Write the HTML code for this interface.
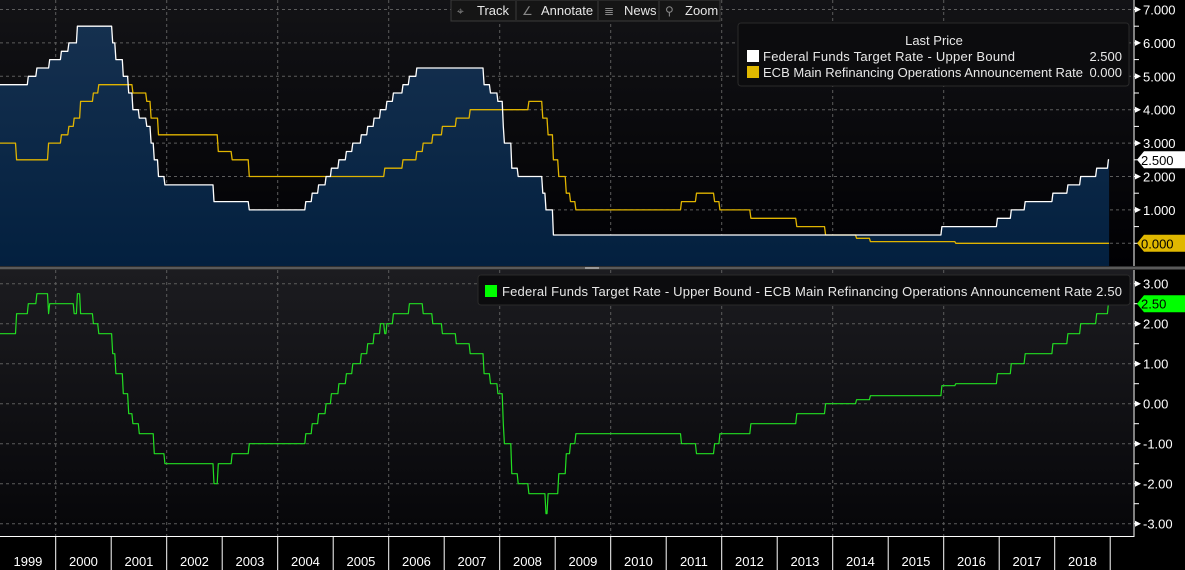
<!DOCTYPE html>
<html><head><meta charset="utf-8"><style>
html,body{margin:0;padding:0;background:#000;width:1185px;height:570px;overflow:hidden}
svg text{font-family:"Liberation Sans",sans-serif}
</style></head><body>
<svg id="chart" width="1185" height="570" viewBox="0 0 1185 570" xmlns="http://www.w3.org/2000/svg">
<defs>
<linearGradient id="bgTop" x1="0" y1="0" x2="0" y2="1"><stop offset="0" stop-color="#131316"/><stop offset="1" stop-color="#000003"/></linearGradient>
<linearGradient id="bgBot" x1="0" y1="0" x2="0" y2="1"><stop offset="0" stop-color="#1c1c20"/><stop offset="1" stop-color="#060609"/></linearGradient>
<linearGradient id="fedFill" x1="0" y1="0" x2="0" y2="1"><stop offset="0" stop-color="#15304f"/><stop offset="1" stop-color="#03203f"/></linearGradient>
</defs>
<rect x="0" y="0" width="1133" height="267" fill="url(#bgTop)"/>
<rect x="0" y="270" width="1133" height="266" fill="url(#bgBot)"/>
<rect x="0" y="266.5" width="1185" height="3" fill="#5a5a5a"/>
<rect x="585" y="267" width="14" height="2" fill="#9a9a9a"/>
<g id="gTop"></g><g id="gBot"></g><g id="gAxis"></g>
<g>
<rect x="451" y="0" width="269" height="21" fill="#151515" stroke="#3a3a3a"/>
<g><text x="457" y="15" fill="#888" font-size="12">⌖</text><text x="477" y="15" fill="#e6e6e6" font-size="13">Track</text></g>
<line x1="516" y1="1" x2="516" y2="20" stroke="#3a3a3a"/>
<g><text x="522" y="15" fill="#888" font-size="12">∠</text><text x="541" y="15" fill="#e6e6e6" font-size="13">Annotate</text></g>
<line x1="598" y1="1" x2="598" y2="20" stroke="#3a3a3a"/>
<g><text x="604" y="15" fill="#888" font-size="12">≣</text><text x="624" y="15" fill="#e6e6e6" font-size="13">News</text></g>
<line x1="659" y1="1" x2="659" y2="20" stroke="#3a3a3a"/>
<g><text x="665" y="15" fill="#888" font-size="12">⚲</text><text x="685" y="15" fill="#e6e6e6" font-size="13">Zoom</text></g>
</g>
<g>
<rect x="738" y="23" width="391" height="63" rx="3" fill="#0c0c0e" stroke="#2a2a2a"/>
<text x="934" y="45" fill="#e8e8e8" font-size="13" text-anchor="middle">Last Price</text>
<rect x="747" y="50" width="12" height="12" fill="#ffffff"/>
<text x="763" y="61" fill="#e8e8e8" font-size="13" textLength="252">Federal Funds Target Rate - Upper Bound</text>
<text x="1122" y="61" fill="#e8e8e8" font-size="13" text-anchor="end">2.500</text>
<rect x="747" y="66" width="12" height="12" fill="#e0b800"/>
<text x="763" y="77" fill="#e8e8e8" font-size="13" textLength="320">ECB Main Refinancing Operations Announcement Rate</text>
<text x="1122" y="77" fill="#e8e8e8" font-size="13" text-anchor="end">0.000</text>
</g>
<g>
<rect x="478" y="275" width="652" height="30" rx="3" fill="#0c0c0e" stroke="#2a2a2a"/>
<rect x="485" y="285" width="12" height="12" fill="#00ff00"/>
<text x="502" y="296" fill="#e8e8e8" font-size="13" textLength="620">Federal Funds Target Rate - Upper Bound - ECB Main Refinancing Operations Announcement Rate 2.50</text>
</g>
</svg>
<script>
const fedDates=[1998.9,1999.49,1999.65,1999.88,2000.09,2000.22,2000.38,2001.01,2001.08,2001.21,2001.30,2001.38,2001.49,2001.64,2001.71,2001.76,2001.85,2001.95,2002.85,2003.48,2004.49,2004.61,2004.72,2004.86,2004.96,2005.09,2005.22,2005.34,2005.49,2005.61,2005.72,2005.84,2005.95,2006.08,2006.24,2006.36,2006.49,2007.71,2007.83,2007.95,2008.06,2008.08,2008.21,2008.33,2008.77,2008.83,2008.96,2015.96,2016.95,2017.21,2017.46,2017.96,2018.22,2018.46,2018.74,2018.955];
const fedRates=[4.75,5.00,5.25,5.50,5.75,6.00,6.50,6.00,5.50,5.00,4.50,4.00,3.75,3.50,3.00,2.50,2.00,1.75,1.25,1.00,1.25,1.50,1.75,2.00,2.25,2.50,2.75,3.00,3.25,3.50,3.75,4.00,4.25,4.50,4.75,5.00,5.25,4.75,4.50,4.25,3.50,3.00,2.25,2.00,1.50,1.00,0.25,0.50,0.75,1.00,1.25,1.50,1.75,2.00,2.25,2.50];
const ecbDates=[1998.9,1999.29,1999.86,2000.09,2000.22,2000.32,2000.44,2000.67,2000.76,2001.38,2001.64,2001.71,2001.85,2002.93,2003.18,2003.48,2005.93,2006.24,2006.49,2006.61,2006.78,2006.95,2007.2,2007.45,2008.52,2008.77,2008.87,2008.96,2009.05,2009.19,2009.27,2009.36,2011.27,2011.53,2011.86,2011.95,2012.52,2013.34,2013.86,2014.43,2014.68,2016.2];
const ecbRates=[3.00,2.50,3.00,3.25,3.50,3.75,4.25,4.50,4.75,4.50,4.25,3.75,3.25,2.75,2.50,2.00,2.25,2.50,2.75,3.00,3.25,3.50,3.75,4.00,4.25,3.75,3.25,2.50,2.00,1.50,1.25,1.00,1.25,1.50,1.25,1.00,0.75,0.50,0.25,0.15,0.05,0.00];
const startDate=1998.93, endDate=2018.98;
const years=[1999,2000,2001,2002,2003,2004,2005,2006,2007,2008,2009,2010,2011,2012,2013,2014,2015,2016,2017,2018];
const topTicks=[7,6,5,4,3,2,1];
const botTicks=[3,2,1,0,-1,-2,-3];
const fedLast=2.5, ecbLast=0.0, spreadLast=2.5;

const NS="http://www.w3.org/2000/svg";
const xS=t=>0.2+(t-1999)*55.5;
const yT=v=>243.3-v*33.4;
const yB=v=>403.7-v*40;
function mk(tag,attrs,parent){const e=document.createElementNS(NS,tag);for(const k in attrs)e.setAttribute(k,attrs[k]);parent.appendChild(e);return e;}
function valAt(dates,vals,t){let v=vals[0];for(let i=0;i<dates.length;i++){if(dates[i]<=t+1e-9)v=vals[i];}return v;}
const samples=[];for(let t=startDate;t<endDate;t+=1/52)samples.push(t);samples.push(endDate);
const gTop=document.getElementById('gTop'),gBot=document.getElementById('gBot'),gAx=document.getElementById('gAxis');
for(const v of topTicks.concat([0])){const l=mk('line',{x1:0,x2:1133,y1:yT(v),y2:yT(v),stroke:'#5c5c5c','stroke-dasharray':'3,3'},gTop);
}
for(const v of botTicks){const l=mk('line',{x1:0,x2:1133,y1:yB(v),y2:yB(v),stroke:'#5c5c5c','stroke-dasharray':'3,3'},gBot);
}
for(let y=2000;y<=2016;y+=2){const a=mk('line',{x1:xS(y),x2:xS(y),y1:0,y2:266,stroke:'#5c5c5c','stroke-dasharray':'3,3'},gTop);

const b=mk('line',{x1:xS(y),x2:xS(y),y1:270,y2:536,stroke:'#5c5c5c','stroke-dasharray':'3,3'},gBot);
}
const fedStr=samples.map(t=>xS(t).toFixed(1)+','+yT(valAt(fedDates,fedRates,t)).toFixed(1)).join(' ');
const ecbStr=samples.map(t=>xS(t).toFixed(1)+','+yT(valAt(ecbDates,ecbRates,t)).toFixed(1)).join(' ');
const spStr=samples.map(t=>xS(t).toFixed(1)+','+yB(valAt(fedDates,fedRates,t)-valAt(ecbDates,ecbRates,t)).toFixed(1)).join(' ');
const x0=xS(samples[0]).toFixed(1), x1=xS(samples[samples.length-1]).toFixed(1);
const area=mk('polygon',{points:x0+',266 '+fedStr+' '+x1+',266',fill:'url(#fedFill)'},gTop);

const ecbLine=mk('polyline',{points:ecbStr,fill:'none',stroke:'#e0b400','stroke-width':1.3,'stroke-linejoin':'round'},gTop);

const fedLine=mk('polyline',{points:fedStr,fill:'none',stroke:'#ffffff','stroke-width':1.3,'stroke-linejoin':'round'},gTop);

const spLine=mk('polyline',{points:spStr,fill:'none',stroke:'#22dd22','stroke-width':1.2,'stroke-linejoin':'round'},gBot);

mk('rect',{x:1133,y:0,width:52,height:266,fill:'#000'},gAx);
mk('rect',{x:1133,y:270,width:52,height:300,fill:'#000'},gAx);
mk('line',{x1:1134,x2:1134,y1:0,y2:266,stroke:'#fff'},gAx);
mk('line',{x1:1134,x2:1134,y1:270,y2:537,stroke:'#fff'},gAx);
for(let v=0;v<=7;v+=0.5){mk('line',{x1:1134,x2:1139,y1:yT(v),y2:yT(v),stroke:'#fff'},gAx);}
for(let v=-3;v<=3;v+=0.5){mk('line',{x1:1134,x2:1139,y1:yB(v),y2:yB(v),stroke:'#fff'},gAx);}
for(const v of topTicks){mk('polygon',{points:`1135,${yT(v)-3} 1141,${yT(v)} 1135,${yT(v)+3}`,fill:'#fff'},gAx);
const t=mk('text',{x:1143,y:yT(v)+5,fill:'#fff','font-size':13},gAx);t.textContent=v.toFixed(3);
}
for(const v of botTicks){mk('polygon',{points:`1135,${yB(v)-3} 1141,${yB(v)} 1135,${yB(v)+3}`,fill:'#fff'},gAx);
const t=mk('text',{x:1143,y:yB(v)+5,fill:'#fff','font-size':13},gAx);t.textContent=v.toFixed(2);
}
function badge(y,fill,txt,name){const g=mk('g',{},gAx);
mk('polygon',{points:`1137,${y} 1144,${y-8.5} 1185,${y-8.5} 1185,${y+8.5} 1144,${y+8.5}`,fill:fill},g);
const t=mk('text',{x:1141,y:y+5,fill:'#000','font-size':13},g);t.textContent=txt;}
badge(yT(fedLast),'#ffffff',fedLast.toFixed(3),'fed-last-price-badge');
badge(yT(ecbLast),'#e0b800',ecbLast.toFixed(3),'ecb-last-price-badge');
badge(yB(spreadLast),'#00ff00',spreadLast.toFixed(2),'spread-last-price-badge');
mk('rect',{x:0,y:537,width:1133,height:33,fill:'#000'},gAx);
mk('line',{x1:0,x2:1134,y1:536.5,y2:536.5,stroke:'#fff'},gAx);
for(const y of years){mk('line',{x1:xS(y+1),x2:xS(y+1),y1:536,y2:570,stroke:'#fff'},gAx);
const t=mk('text',{x:xS(y+0.5),y:566,fill:'#fff','font-size':13,'text-anchor':'middle'},gAx);t.textContent=y;
}
</script>
</body></html>
